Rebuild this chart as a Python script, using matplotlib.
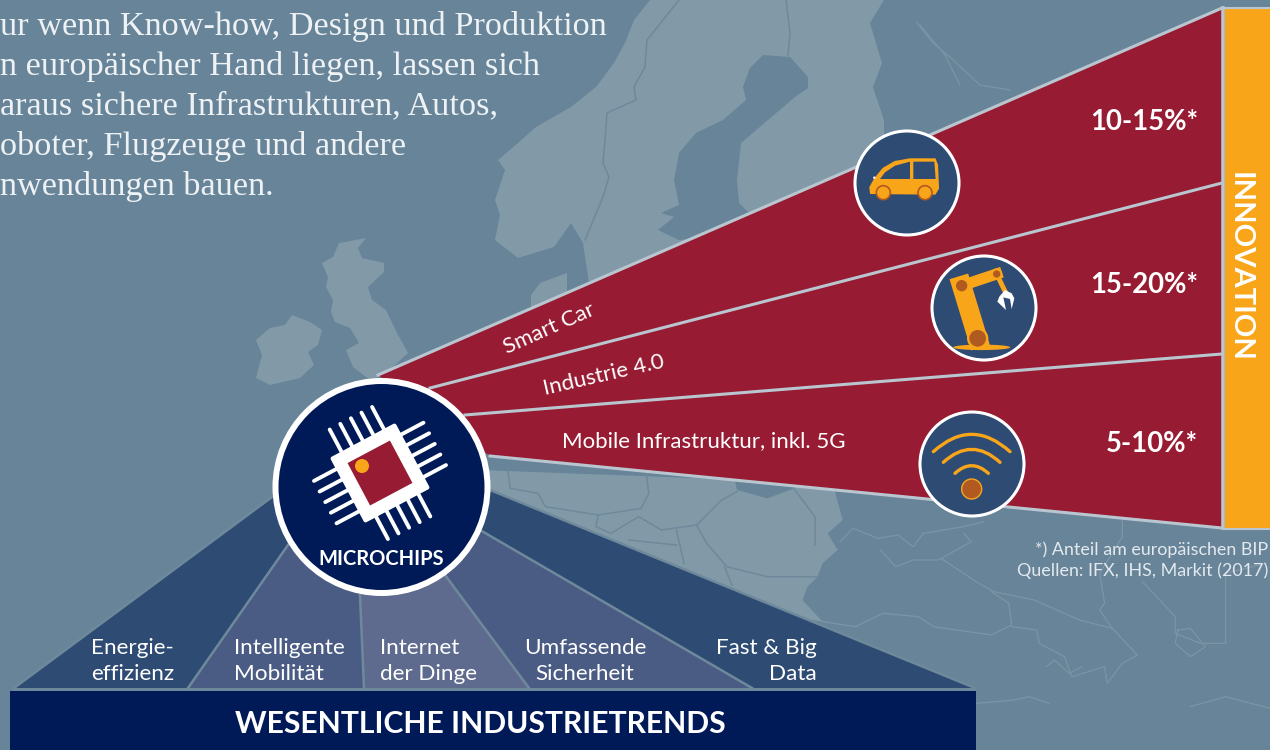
import matplotlib
matplotlib.use('Agg')
import matplotlib.pyplot as plt
from matplotlib.patches import Circle, Ellipse, Polygon, PathPatch, Rectangle
from matplotlib.path import Path
import numpy as np

SEA = '#678499'
LAND = '#829aa8'
BORDER = '#6e899b'
FAINT = '#7c95a5'
RED = '#971b32'
ORANGE = '#f9a51a'
BROWN = '#b05a1f'
NAVY = '#001a57'
DARK = '#2e4b73'
MID = '#4b5c84'
LIGHT = '#5e6b8f'
GREY = '#b9c5cf'

# texts
intro_lines = ['ur wenn Know-how, Design und Produktion',
               'n europäischer Hand liegen, lassen sich',
               'araus sichere Infrastrukturen, Autos,',
               'oboter, Flugzeuge und andere',
               'nwendungen bauen.']
share_labels = ['10-15%*', '15-20%*', '5-10%*']
share_y = [122, 285, 444]
trend_lines = [('Energie-', 'effizienz'), ('Intelligente', 'Mobilität'), ('Internet', 'der Dinge'),
               ('Umfassende', 'Sicherheit'), ('Fast & Big', 'Data')]
trend_x = [174, 234, 380, 585, 817]
trend_ha = ['right', 'left', 'left', 'center', 'right']
trend_colors = [DARK, MID, LIGHT, MID, DARK]

# fan geometry
wedge_ends = [1222, 8, 183, 354, 528]
wedge_starts = [(378, 375), (430, 388), (465, 415), (490, 456)]
fan_base = [14, 188, 364, 529, 752, 975]
fan_tops = [(272, 497), (288, 545), (360, 595), (445, 575), (480, 530), (490, 490)]

# map shapes
scandinavia = [(650, 0), (634, 20), (625, 43), (614, 63), (596, 87), (571, 107), (536, 127), (518, 143),
               (498, 160), (505, 170), (495, 200), (500, 215), (495, 240), (518, 258), (554, 247),
               (571, 223), (583, 243), (589, 283), (884, 160), (884, 120), (873, 87), (882, 63),
               (870, 23), (884, 0)]
baltic = [(763, 55), (790, 57), (808, 77), (808, 88), (795, 97), (768, 120), (741, 143), (737, 180),
          (739, 203), (750, 214), (696, 238), (679, 240), (658, 230), (674, 217), (661, 213),
          (679, 205), (674, 180), (679, 153), (696, 133), (723, 120), (746, 100), (743, 87), (750, 68)]
uk = [(366, 238), (339, 243), (333, 257), (322, 263), (328, 277), (326, 287), (333, 300), (331, 312),
      (335, 322), (350, 328), (359, 343), (346, 350), (353, 367), (370, 380), (384, 375), (408, 353),
      (397, 333), (386, 310), (372, 300), (368, 287), (384, 272), (384, 263), (362, 258), (358, 248)]
ireland = [(292, 315), (310, 322), (322, 330), (318, 345), (308, 352), (314, 365), (300, 378),
           (270, 385), (256, 378), (262, 355), (256, 340), (270, 328), (285, 325)]
denmark = [(567, 273), (540, 283), (531, 295), (531, 315), (567, 295)]
continent = [(0, 0), (700, 40), (720, 150), (690, 190), (710, 240), (680, 280), (670, 320), (650, 350),
             (640, 390), (680, 455), (0, 300)]
notch = [(505, 25), (625, 25), (625, 55), (570, 85), (510, 60)]
land_borders = [[(55, 0), (60, 55), (115, 70), (130, 110), (235, 135), (320, 115), (335, 70), (330, 10)],
                [(235, 135), (230, 170), (260, 190), (315, 140), (360, 180), (430, 165), (480, 90), (510, 65)],
                [(430, 165), (450, 220), (490, 290), (570, 320), (670, 320)],
                [(485, 290), (500, 345)], [(390, 180), (405, 280)], [(295, 210), (390, 225)],
                [(625, 60), (665, 140), (665, 225)]]
faint_lines = [[(1000, 155), (960, 170), (880, 190), (860, 230), (830, 195), (790, 205), (740, 175), (715, 215)],
               [(795, 240), (825, 290), (860, 270), (910, 270), (975, 215), (960, 190)],
               [(915, 265), (990, 340), (1020, 365), (1100, 390), (1190, 450), (1255, 475)],
               [(680, 455), (745, 470), (800, 430), (870, 440), (900, 470), (1015, 495), (1055, 465),
                (1050, 400), (1015, 365)],
               [(1055, 470), (1105, 480), (1110, 520), (1160, 560), (1175, 620), (1240, 590), (1245, 640),
                (1275, 580), (1305, 555), (1255, 475)],
               [(1275, 150), (1275, 200), (1230, 310), (1240, 400), (1230, 420), (1255, 475)],
               [(1315, 335), (1380, 440), (1380, 490), (1430, 520), (1480, 520), (1480, 310), (1560, 280)],
               [(985, 700), (1060, 690), (1090, 680), (1130, 700)],
               [(1410, 710), (1480, 680), (1568, 715)],
               [(1385, 480), (1410, 475), (1440, 530), (1410, 560), (1380, 520), (1385, 480)],
               [(1125, 590), (1140, 570), (1170, 610), (1195, 590)]]
north_lines = [[(917, 23), (933, 43), (950, 57), (980, 85), (1010, 90)],
               [(920, 25), (945, 55), (960, 85)]]
ns_border = [(679, 0), (647, 40), (645, 67), (634, 87), (636, 100), (607, 113), (605, 140), (603, 163),
             (609, 177), (603, 197), (585, 240)]
sf_border = [(786, 0), (790, 33), (788, 55)]

# icon outlines, in zoom crop pixels
car_body = [(92, 250), (90, 232), (105, 205), (130, 175), (165, 155), (210, 147), (285, 147), (292, 165),
            (295, 235), (285, 252)]
car_win1 = [(120, 207), (135, 187), (165, 167), (210, 155), (210, 207)]
car_win2 = [(220, 155), (283, 155), (287, 207), (220, 207)]
claw = [(478, 560), (495, 540), (515, 550), (523, 565), (515, 597), (510, 567), (490, 562), (498, 600), (472, 575)]


def z2(u, v):
    return 840 + u / 3, 110 + v / 3


def z3(u, v):
    return 900 + u / 3, 400 + v / 3


def z6(u, v):
    return 480 + u / 1.985, 470 + v / 3


def txt(x, y, s, size, weight='normal', ha='center', va='center', rot=0, color='white', family='Lato', zorder=20):
    ax.text(x, y, s, fontsize=size, fontweight=weight, ha=ha, va=va, rotation=rot, color=color,
            family=family, rotation_mode='anchor', zorder=zorder)


fig = plt.figure(figsize=(12.7, 7.5), dpi=100, facecolor=SEA)
ax = fig.add_axes([0, 0, 1, 1])
ax.set_xlim(0, 1270)
ax.set_ylim(750, 0)
ax.axis('off')

# map background
for pts in [scandinavia, uk, ireland, denmark]:
    ax.add_patch(Polygon(pts, fc=LAND, ec='none', zorder=1))
ax.add_patch(Polygon([z6(*p) for p in continent], fc=LAND, ec='none', zorder=1))
ax.add_patch(Polygon([z6(*p) for p in notch], fc=SEA, ec='none', zorder=2))
ax.add_patch(Polygon(baltic, fc=SEA, ec='none', zorder=2))
for line in land_borders:
    xs, ys = zip(*[z6(*p) for p in line])
    ax.plot(xs, ys, color=BORDER, lw=1.1, zorder=3)
for line in faint_lines:
    xs, ys = zip(*[z6(*p) for p in line])
    ax.plot(xs, ys, color=FAINT, lw=0.9, zorder=3)
for line in north_lines:
    xs, ys = zip(*line)
    ax.plot(xs, ys, color=FAINT, lw=0.9, zorder=3)
for line in [ns_border, sf_border]:
    xs, ys = zip(*line)
    ax.plot(xs, ys, color=BORDER, lw=1.1, zorder=3)

# red fan and innovation bar
xr = wedge_ends[0]
ax.add_patch(Polygon([wedge_starts[0], (xr, wedge_ends[1]), (xr, wedge_ends[4]), wedge_starts[3]],
                     fc=RED, ec='none', zorder=4))
for start, end in zip(wedge_starts, wedge_ends[1:]):
    ax.plot([start[0], xr], [start[1], end], color=GREY, lw=2.2, zorder=5)
ax.add_patch(Rectangle((1225, 8), 45, 520, fc=ORANGE, ec='none', zorder=5))
ax.plot([1223, 1223], [8, 528], color=GREY, lw=2.6, zorder=5)
ax.plot([1223, 1270], [8, 8], color=GREY, lw=1.5, zorder=5)
ax.plot([1223, 1270], [529, 529], color=GREY, lw=1.5, zorder=5)
txt(1240, 267, 'INNOVATION', 21, 'bold', rot=-90)

# lower fan
for i, col in enumerate(trend_colors):
    ax.add_patch(Polygon([fan_tops[i], (fan_base[i], 688), (fan_base[i + 1], 688), fan_tops[i + 1], (381, 487)],
                         fc=col, ec='none', zorder=6))
for top, x in zip(fan_tops, fan_base):
    ax.plot([top[0], x], [top[1], 688], color=BORDER, lw=1.8, zorder=7)
ax.plot([14, 975], [689, 689], color=BORDER, lw=1.8, zorder=7)
ax.add_patch(Rectangle((10, 691), 966, 59, fc=NAVY, ec='none', zorder=8))
txt(480, 724, 'WESENTLICHE INDUSTRIETRENDS', 21.7, 'bold')
for (a, b), x, ha in zip(trend_lines, trend_x, trend_ha):
    txt(x, 648, a, 16.2, ha=ha)
    txt(x, 674, b, 16.2, ha=ha)

# centre circle with chip
ax.add_patch(Circle((381.5, 487), 109, fc='white', ec='none', zorder=10))
ax.add_patch(Circle((381.5, 487), 103, fc=NAVY, ec='none', zorder=11))
angle = np.deg2rad(-28)
cx, cy = 380, 473
ud = np.array([np.cos(angle), np.sin(angle)])
vd = np.array([-np.sin(angle), np.cos(angle)])


def chip(u, v):
    return np.array([cx, cy]) + u * ud + v * vd


for off in [-24, -12, 0, 12, 24]:
    for a, b in [(chip(off, -34), chip(off, -62)), (chip(off, 34), chip(off, 62)),
                 (chip(-34, off), chip(-62, off)), (chip(34, off), chip(62, off))]:
        ax.plot([a[0], b[0]], [a[1], b[1]], color='white', lw=2.8, solid_capstyle='round', zorder=12)
ax.add_patch(Polygon([chip(-35, -35), chip(35, -35), chip(35, 35), chip(-35, 35)], fc='white', ec='white',
                     lw=3, joinstyle='round', zorder=13))
ax.add_patch(Polygon([chip(-24, -24), chip(24, -24), chip(24, 24), chip(-24, 24)], fc=RED, ec='none', zorder=14))
ax.add_patch(Circle((362, 466), 7, fc=ORANGE, ec='none', zorder=15))
txt(381.5, 559, 'MICROCHIPS', 14.5, 'bold')

# icon circles
for center in [(907, 183), (984, 308), (972, 464)]:
    ax.add_patch(Circle(center, 52, fc=DARK, ec='white', lw=2.2, zorder=10))

# car
ax.add_patch(Polygon([z2(*p) for p in car_body], fc=ORANGE, ec=ORANGE, lw=1, joinstyle='round', zorder=11))
ax.add_patch(Polygon([z2(*p) for p in car_win1], fc=DARK, ec='none', zorder=12))
ax.add_patch(Polygon([z2(*p) for p in car_win2], fc=DARK, ec='none', zorder=12))
ax.add_patch(Circle(z2(103, 203), 1.2, fc='white', ec='none', zorder=13))
for u in [130, 255]:
    ax.add_patch(Circle(z2(u, 248), 7, fc=ORANGE, ec=BROWN, lw=1.2, zorder=12))

# robot arm
ax.add_patch(Ellipse(z2(425, 712), 57, 5.5, fc=ORANGE, ec='none', zorder=11))
ax.plot(*zip(z2(365, 527), z2(413, 685)), color=ORANGE, lw=14, zorder=11)
ax.plot(*zip(z2(365, 527), z2(470, 492)), color=ORANGE, lw=8, zorder=11)
ax.plot(*zip(z2(470, 492), z2(497, 548)), color=ORANGE, lw=3.5, zorder=11)
for u, v, r1, r2 in [(413, 685, 32, 25), (365, 527, 24, 17), (470, 492, 17, 11)]:
    ax.add_patch(Circle(z2(u, v), r1 / 3, fc=ORANGE, ec='none', zorder=12))
    ax.add_patch(Circle(z2(u, v), r2 / 3, fc=BROWN, ec='none', zorder=13))
ax.add_patch(Polygon([z2(*p) for p in claw], fc='white', ec='none', zorder=12))

# wifi
for half, top, end in [(115, 103, 155), (85, 148, 187), (50, 197, 220)]:
    arc = Path([z3(215 - half, end), z3(215, 2 * top - end), z3(215 + half, end)],
               [Path.MOVETO, Path.CURVE3, Path.CURVE3])
    ax.add_patch(PathPatch(arc, fc='none', ec=ORANGE, lw=2.4, capstyle='round', zorder=12))
ax.add_patch(Circle(z3(215, 267), 10, fc=BROWN, ec=ORANGE, lw=1, zorder=12))

# labels
for label, y in zip(share_labels, share_y):
    txt(1198, y, label, 19.8, 'bold', ha='right')
txt(549, 329, 'Smart Car', 16, rot=24)
txt(604, 375, 'Industrie 4.0', 16, rot=13)
txt(704, 441, 'Mobile Infrastruktur, inkl. 5G', 16)
txt(1268, 550, '*) Anteil am europäischen BIP', 12.9, ha='right', color='#e3e9ee')
txt(1268, 571, 'Quellen: IFX, IHS, Markit (2017)', 12.9, ha='right', color='#e3e9ee')
for i, line in enumerate(intro_lines):
    txt(0, 26 + 40 * i, line, 24.7, ha='left', family='Liberation Serif', color='#eef2f5')

fig.savefig('out.png', dpi=100, facecolor=SEA)
